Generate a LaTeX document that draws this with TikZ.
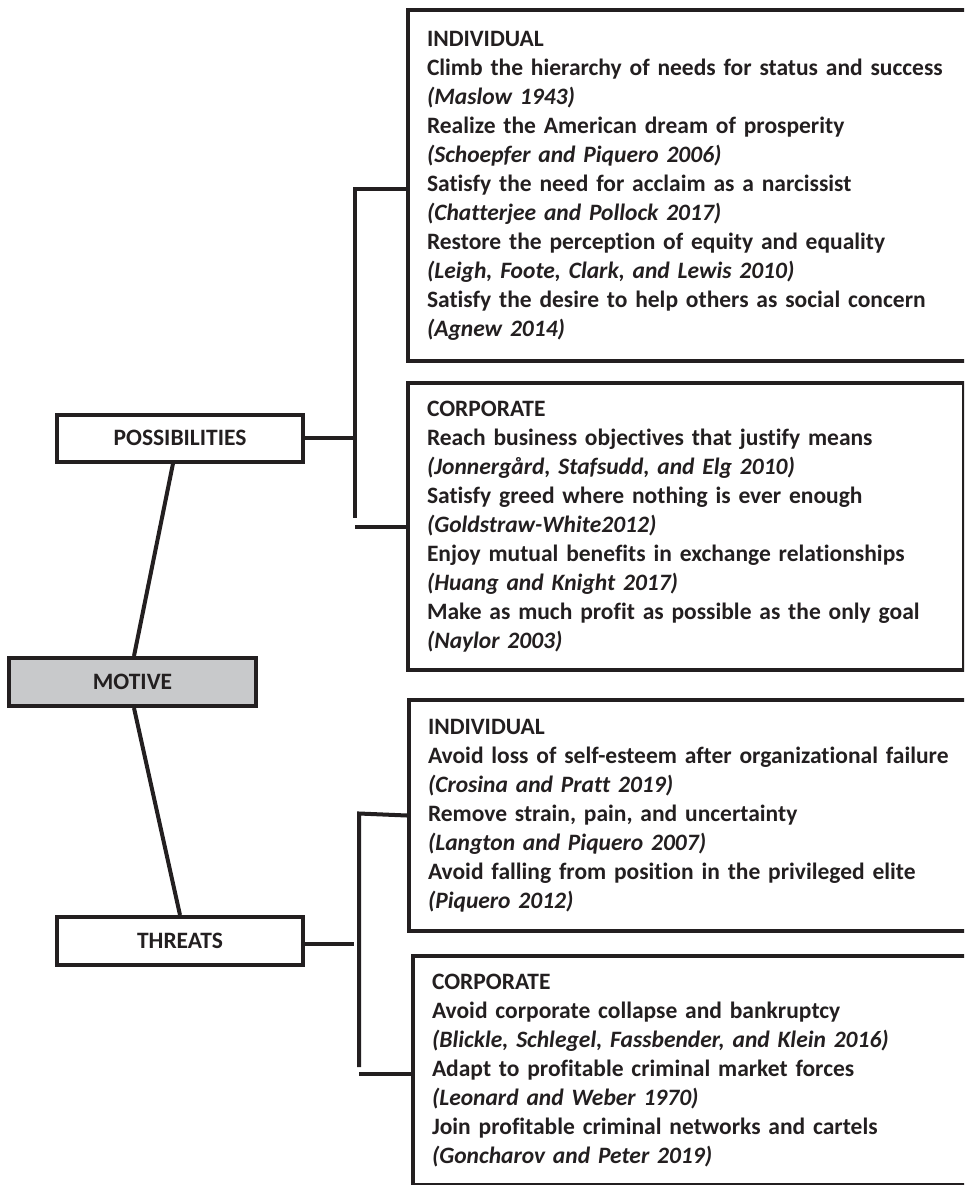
\documentclass[tikz,border=0pt]{standalone}
\usepackage{fontspec}
\setmainfont{Carlito}[Ligatures = NoCommon]
\definecolor{ink}{HTML}{231F20}
\definecolor{motivegray}{HTML}{C8C9CB}
\begin{document}
\begin{tikzpicture}[x = 1pt, y = -1pt, line width = 4pt, color = ink,
        font = \fontsize{23.5}{29}\selectfont\bfseries,
        topic/.style = {draw, minimum width = 246pt, minimum height = 47pt, inner sep = 0pt},
        listbox/.style = {draw, anchor = north west, align = left, text width = 580pt,
            inner xsep = 19pt, inner ysep = 0pt}]
    \useasboundingbox (0, 0) rectangle (964, 1185);
    \clip (0, 0) rectangle (964, 1185);
    \node [topic] (possib) at (180, 438) {POSSIBILITIES};
    \node [topic, fill = motivegray, minimum width = 247pt, minimum height = 48pt] (motive) at (132.5, 682) {MOTIVE};
    \node [topic, minimum height = 48pt] (threats) at (180, 941) {THREATS};
    \node [listbox, minimum height = 351pt] (indP) at (406, 8) {INDIVIDUAL\\
        Climb the hierarchy of needs for status and success\\
        \textit{(Maslow 1943)}\\
        Realize the American dream of prosperity\\
        \textit{(Schoepfer and Piquero 2006)}\\
        Satisfy the need for acclaim as a narcissist\\
        \textit{(Chatterjee and Pollock 2017)}\\
        Restore the perception of equity and equality\\
        \textit{(Leigh, Foote, Clark, and Lewis 2010)}\\
        Satisfy the desire to help others as social concern\\
        \textit{(Agnew 2014)}};
    \node [listbox, minimum height = 287pt, text width = 518pt] (corpP) at (406, 381) {CORPORATE\\
        Reach business objectives that justify means\\
        \textit{(Jonnergård, Stafsudd, and Elg 2010)}\\
        Satisfy greed where nothing is ever enough\\
        \textit{(Goldstraw-White2012)}\\
        Enjoy mutual benefits in exchange relationships\\
        \textit{(Huang and Knight 2017)}\\
        Make as much profit as possible as the only goal\\
        \textit{(Naylor 2003)}};
    \node [listbox, minimum height = 231pt] (indT) at (407, 698) {INDIVIDUAL\\
        Avoid loss of self-esteem after organizational failure\\
        \textit{(Crosina and Pratt 2019)}\\
        Remove strain, pain, and uncertainty\\
        \textit{(Langton and Piquero 2007)}\\
        Avoid falling from position in the privileged elite\\
        \textit{(Piquero 2012)}};
    \node [listbox, minimum height = 229pt] (corpT) at (411, 954) {CORPORATE\\
        Avoid corporate collapse and bankruptcy\\
        \textit{(Blickle, Schlegel, Fassbender, and Klein 2016)}\\
        Adapt to profitable criminal market forces\\
        \textit{(Leonard and Weber 1970)}\\
        Join profitable criminal networks and cartels\\
        \textit{(Goncharov and Peter 2019)}};
    \draw ([xshift = -7pt]possib.south) -- ([xshift = 1.5pt]motive.north);
    \draw ([xshift = 1.5pt]motive.south) -- (threats.north);
    \coordinate (pa) at (355, 189);
    \coordinate (pb) at (355, 518);
    \draw (possib.east) -- (possib.east -| pa);
    \draw (indP.west |- pa) -- (pa) -- (pb);
    \draw (corpP.west) -- (corpP.west -| pa);
    \coordinate (ta) at (359, 813.5);
    \coordinate (tb) at (359, 1067);
    \draw ([yshift = -3pt]threats.east) -- ([xshift = -5pt, yshift = -3pt]threats.east -| ta);
    \draw (indT.west) -- (ta) -- (tb);
    \draw ([yshift = -3.5pt]corpT.west) -- ([yshift = -3.5pt]corpT.west -| tb);
\end{tikzpicture}
\end{document}
